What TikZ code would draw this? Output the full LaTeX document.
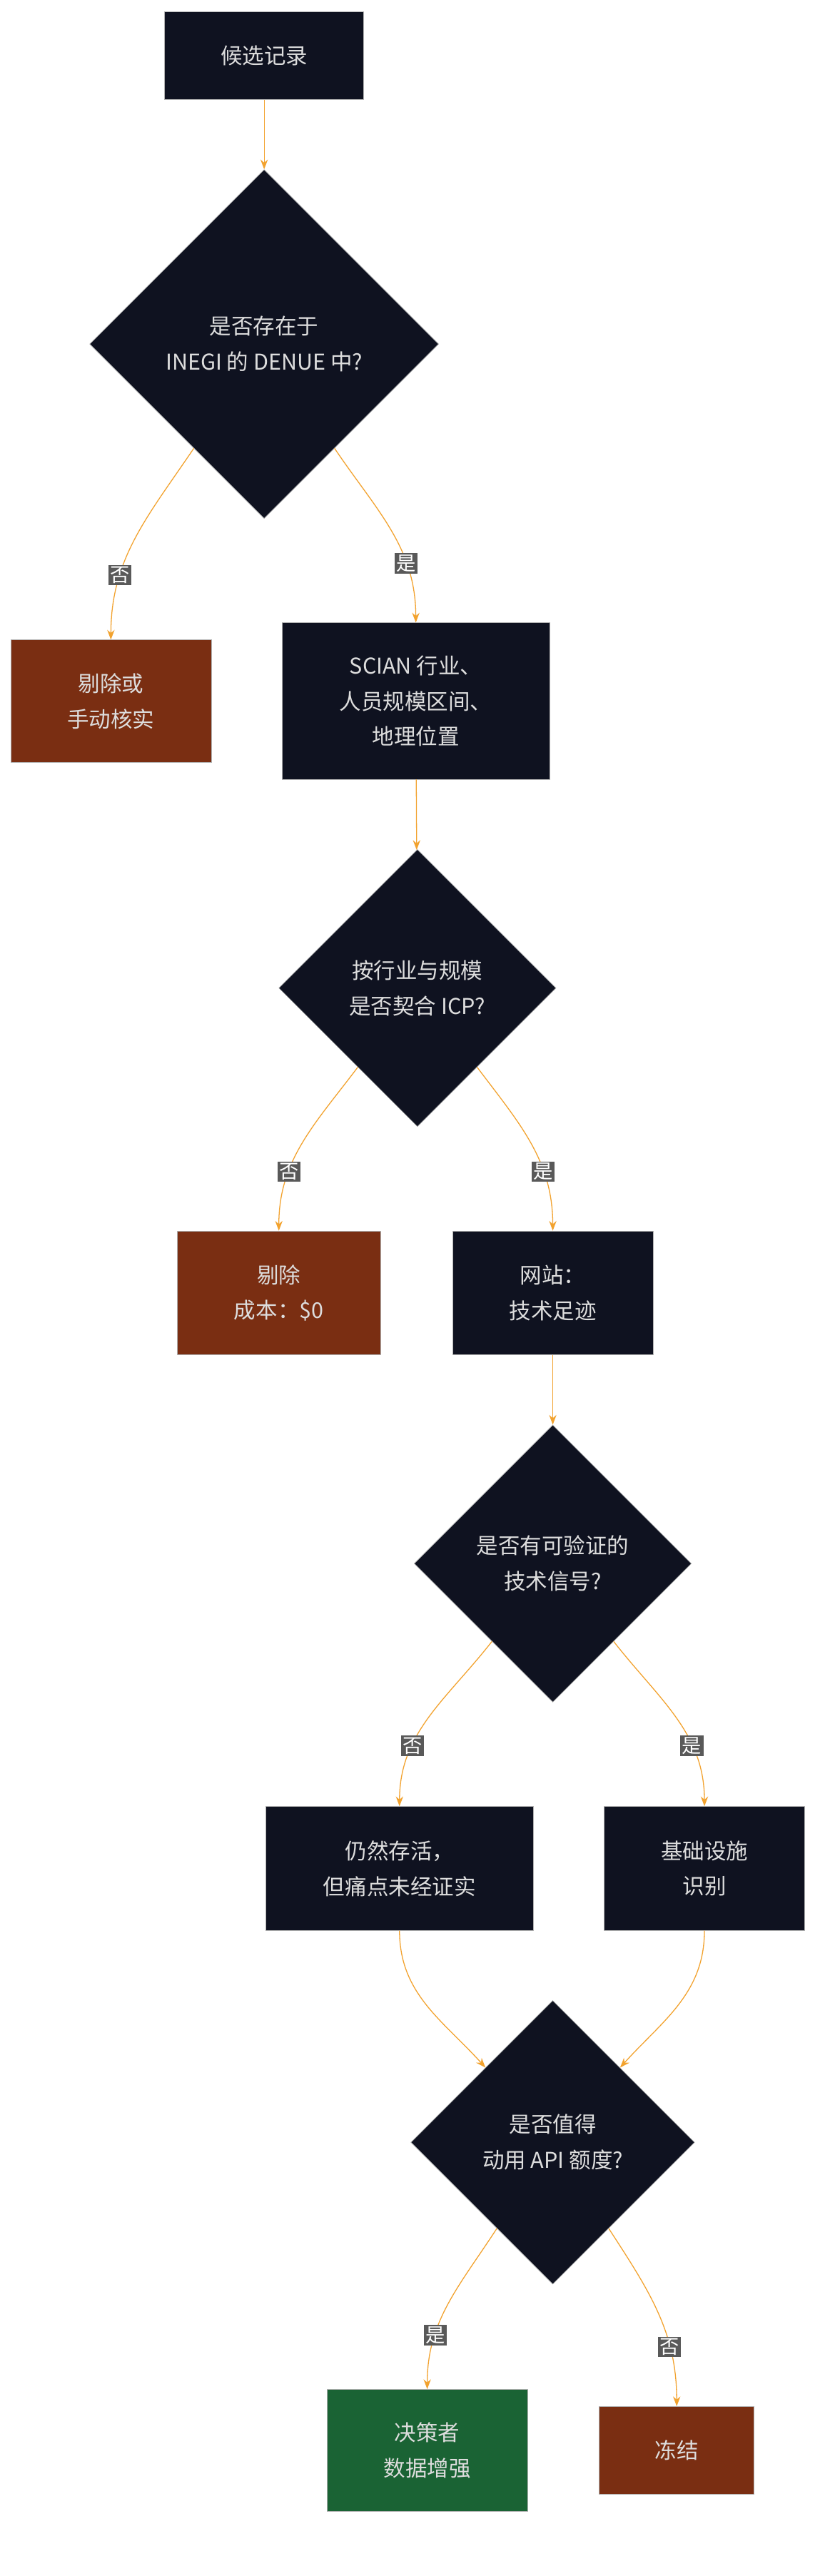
\documentclass[tikz,border=0pt]{standalone}
\usepackage{fontspec}
\setmainfont{Noto Sans CJK SC}
\usetikzlibrary{shapes.geometric,arrows.meta}
\definecolor{navy}{HTML}{0F1220}
\definecolor{rust}{HTML}{7A2E12}
\definecolor{leaf}{HTML}{1A6334}
\definecolor{flow}{HTML}{F2A22E}
\definecolor{txt}{HTML}{DDDDDD}
\begin{document}
\begin{tikzpicture}[x=0.5mm,y=-0.5mm,
  font=\fontsize{19}{31}\selectfont,
  box/.style={rectangle, fill=navy, draw=gray!60, text=txt, align=center, inner sep=0},
  drop/.style={box, fill=rust},
  keep/.style={box, fill=leaf},
  ask/.style={diamond, fill=navy, draw=gray!60, text=txt, align=center, inner sep=0, aspect=1},
  flowline/.style={draw=flow, thick, -{Stealth[length=3mm]}},
  tag/.style={fill=gray!70!black, text=white, inner sep=1.5pt, font=\fontsize{17}{20}\selectfont}]
\useasboundingbox (0,0) rectangle (512,1580);
% nodes
\node[box, minimum width=61mm, minimum height=27mm] (start) at (162,34) {候选记录};
\node[ask, minimum size=107mm] (inegi) at (162,211) {是否存在于\\INEGI 的 DENUE 中?};
\node[drop, minimum width=61.5mm, minimum height=37.5mm] (check) at (68,430) {剔除或\\手动核实};
\node[box, minimum width=82mm, minimum height=48mm] (scian) at (255,430) {SCIAN 行业、\\人员规模区间、\\地理位置};
\node[ask, minimum size=85mm] (icp) at (256,606) {按行业与规模\\是否契合 ICP?};
\node[drop, minimum width=62.5mm, minimum height=38mm] (cut) at (171,793) {剔除\\成本：\$0};
\node[box, minimum width=61.5mm, minimum height=38mm] (web) at (339,793) {网站：\\技术足迹};
\node[ask, minimum size=85mm] (tech) at (339,959) {是否有可验证的\\技术信号?};
\node[box, minimum width=82mm, minimum height=38mm] (alive) at (245,1146) {仍然存活，\\但痛点未经证实};
\node[box, minimum width=61.5mm, minimum height=38mm] (infra) at (432,1146) {基础设施\\识别};
\node[ask, minimum size=87mm] (api) at (339,1314) {是否值得\\动用 API 额度?};
\node[keep, minimum width=61.5mm, minimum height=37.5mm] (enrich) at (262,1503) {决策者\\数据增强};
\node[drop, minimum width=47.5mm, minimum height=27mm] (freeze) at (415,1503) {冻结};
% connectors
\draw[flowline] (start) -- (inegi);
\draw[flowline] (inegi.-124) to[out=-124,in=90] node[tag,pos=0.7] {否} (check.north);
\draw[flowline] (inegi.-56) to[out=-56,in=90] node[tag,pos=0.7] {是} (scian.north);
\draw[flowline] (scian) -- (icp);
\draw[flowline] (icp.-127) to[out=-127,in=90] node[tag,pos=0.68] {否} (cut.north);
\draw[flowline] (icp.-53) to[out=-53,in=90] node[tag,pos=0.68] {是} (web.north);
\draw[flowline] (web) -- (tech);
\draw[flowline] (tech.-128) to[out=-128,in=90] node[tag,pos=0.68] {否} (alive.north);
\draw[flowline] (tech.-52) to[out=-52,in=90] node[tag,pos=0.68] {是} (infra.north);
\draw[flowline] (alive.south) to[out=-90,in=132] (api.132);
\draw[flowline] (infra.south) to[out=-90,in=48] (api.48);
\draw[flowline] (api.-123) to[out=-123,in=90] node[tag,pos=0.7] {是} (enrich.north);
\draw[flowline] (api.-57) to[out=-57,in=90] node[tag,pos=0.7] {否} (freeze.north);
\end{tikzpicture}
\end{document}
